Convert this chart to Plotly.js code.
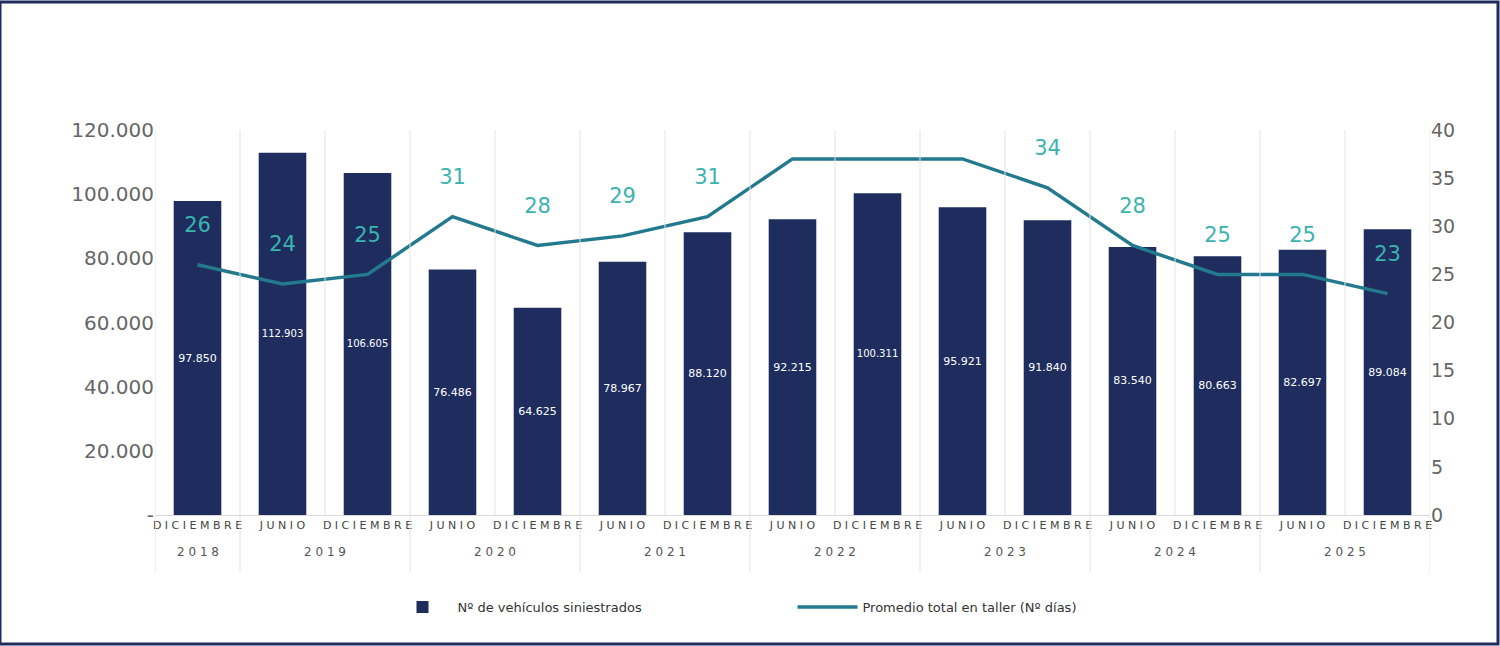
<!DOCTYPE html>
<html>
<head>
<meta charset="utf-8">
<script src="https://cdn.plot.ly/plotly-3.0.1.min.js"></script>
<style>body{margin:0;background:#fff}#chart{width:1500px;height:646px}</style>
</head>
<body>
<div id="chart"></div>
<script>
var months = ['DICIEMBRE','JUNIO','DICIEMBRE','JUNIO','DICIEMBRE','JUNIO','DICIEMBRE','JUNIO','DICIEMBRE','JUNIO','DICIEMBRE','JUNIO','DICIEMBRE','JUNIO','DICIEMBRE'];
var years = ['2018','2019','2020','2021','2022','2023','2024','2025'];
var vehiculos = [97850,112903,106605,76486,64625,78967,88120,92215,100311,95921,91840,83540,80663,82697,89084];
var vehiculosText = ['97.850','112.903','106.605','76.486','64.625','78.967','88.120','92.215','100.311','95.921','91.840','83.540','80.663','82.697','89.084'];
var dias = [26,24,25,31,28,29,31,37,37,37,34,28,25,25,23];

var idx = months.map(function(m, i){ return i; });
function spaced(s){ return s.split('').join(' '); }

var bars = {
    x: idx, y: vehiculos, type: 'bar', name: 'Nº de vehículos siniestrados',
    marker: {color: '#1e2d5e'}, width: 0.56,
    text: vehiculosText, textposition: 'inside', insidetextanchor: 'middle',
    textfont: {color: '#ffffff', size: 11, family: 'Verdana, DejaVu Sans'},
    textangle: 0
};
var line = {
    x: idx, y: dias, type: 'scatter', mode: 'lines+text', yaxis: 'y2',
    name: 'Promedio total en taller (Nº días)',
    line: {color: '#237a8e', width: 3.5},
    // extra blank line lifts the label higher above the point
    text: dias.map(function(d){ return d + '<br> '; }), textposition: 'top center',
    textfont: {color: '#3bb3ae', size: 21, family: 'Verdana, DejaVu Sans'}
};

var shapes = [];
for (var i = 0; i <= months.length; i++) {
    shapes.push({type: 'line', xref: 'x', yref: 'paper', x0: i - 0.5, x1: i - 0.5, y0: 0, y1: 1,
        line: {color: '#e3e3e3', width: 1}});
}
var yearStart = [-0.5, 0.5, 2.5, 4.5, 6.5, 8.5, 10.5, 12.5, 14.5];
yearStart.forEach(function(b){
    shapes.push({type: 'line', xref: 'x', yref: 'paper', x0: b, x1: b, y0: -0.15, y1: 0,
        line: {color: '#e3e3e3', width: 1}});
});
shapes.push({type: 'rect', xref: 'paper', yref: 'paper', x0: -155/1275, x1: 1 + 68/1275, y0: -129/385, y1: 1 + 128/385,
    line: {color: '#1e2d5e', width: 3}});

var annotations = years.map(function(y, k){
    return {x: (yearStart[k] + yearStart[k + 1]) / 2, y: -0.12, xref: 'x', yref: 'paper',
        text: spaced(y), showarrow: false, font: {size: 12, color: '#555', family: 'Verdana, DejaVu Sans'}};
});

var layout = {
    width: 1500, height: 646,
    margin: {l: 155, r: 70, t: 130, b: 131},
    paper_bgcolor: '#fff', plot_bgcolor: '#fff',
    showlegend: true,
    legend: {orientation: 'h', x: 0.5, xanchor: 'center', y: -0.2, yanchor: 'top',
        font: {size: 13, color: '#333', family: 'Verdana, DejaVu Sans'}, traceorder: 'normal',
        entrywidth: 330, itemwidth: 60},
    bargap: 0.44,
    xaxis: {tickvals: idx, ticktext: months.map(spaced), tickangle: 0, range: [-0.5, 14.5],
        showgrid: false, zeroline: false, showline: true, linecolor: '#d9d9d9',
        tickfont: {size: 11, color: '#444', family: 'Verdana, DejaVu Sans'}},
    yaxis: {range: [0, 120000], tickvals: [0,20000,40000,60000,80000,100000,120000],
        ticktext: ['-','20.000','40.000','60.000','80.000','100.000','120.000'],
        showgrid: false, zeroline: false, ticks: '', ticklen: 0,
        tickfont: {size: 20, color: '#666', family: 'Verdana, DejaVu Sans'}},
    yaxis2: {range: [0, 40], overlaying: 'y', side: 'right', dtick: 5, showgrid: false, zeroline: false,
        tickfont: {size: 19, color: '#666', family: 'Verdana, DejaVu Sans'}},
    shapes: shapes,
    annotations: annotations
};
Plotly.newPlot('chart', [bars, line], layout, {displayModeBar: false, staticPlot: true});
</script>
</body>
</html>
